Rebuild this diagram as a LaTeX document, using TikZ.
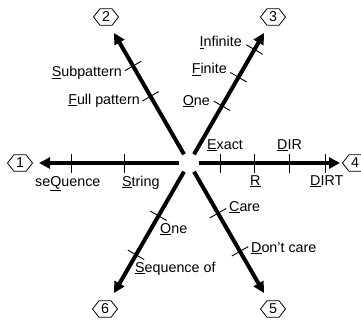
\documentclass[tikz,border=0pt]{standalone}
\usepackage{fontspec}
\setmainfont{Liberation Sans}
\usetikzlibrary{calc,arrows.meta}

\tikzset{
  axisline/.style={line width=4pt,-{Triangle[length=11pt,width=11pt]}},
  tickline/.style={line width=0.9pt},
  lbl/.style={inner sep=0pt,font=\fontsize{14.3}{16}\selectfont},
  hexnum/.style={inner sep=0pt,font=\fontsize{14.3}{16}\selectfont},
  hexline/.style={line width=0.8pt,line join=miter},
}

% numbered hexagon: name, position, number
\newcommand\hexnode[3]{%
  \node[hexnum] (#1) at (#2) {#3};
  \draw[hexline] ($(#1.center)+(-12.5,0)$) -- ++(6.5,-8.3) -- ++(12,0)
    -- ++(6.5,8.3) -- ++(-6.5,8.3) -- ++(-12,0) -- cycle;}

\begin{document}
\begin{tikzpicture}[x=1pt,y=-1pt]
  \useasboundingbox (0,0) rectangle (361,321);

  % hub and axis end points
  \coordinate (O) at (189,163);
  \coordinate (A1) at (39,163);
  \coordinate (A2) at (114,33);
  \coordinate (A3) at (264,33);
  \coordinate (A4) at (340,163);
  \coordinate (A5) at (264,293);
  \coordinate (A6) at (114,293);

  % the six axes, starting just off the hub
  \foreach \i in {1,...,6}
    \draw[axisline] ($(O)!10pt!(A\i)$) -- (A\i);

  % tick marks, at distances from the hub
  \foreach \i/\dl in {1/{65,118}, 2/{77,112}, 3/{66,99,131},
                      4/{31,65,100,136}, 5/{58,102}, 6/{61,106}}
    \foreach \d in \dl
      \draw[tickline] ($(O)!\d pt!(A\i)!9.5pt!90:(A\i)$)
                   -- ($(O)!\d pt!(A\i)!9.5pt!-90:(A\i)$);

  % axis numbers
  \hexnode{h1}{20,163}{1}
  \hexnode{h2}{106,17}{2}
  \hexnode{h3}{273,17}{3}
  \hexnode{h4}{355,163}{4}
  \hexnode{h5}{273,309}{5}
  \hexnode{h6}{105,309}{6}

  % axis 1
  \node[lbl,anchor=base west] (l1a) at (35,186) {se\underline{Q}uence};
  \node[lbl,anchor=base west] (l1b) at (122,186) {\underline{S}tring};
  % axis 2
  \node[lbl,anchor=base east] (l2a) at (122,77) {\underline{S}ubpattern};
  \node[lbl,anchor=base east] (l2b) at (140,104) {\underline{F}ull pattern};
  % axis 3
  \node[lbl,anchor=base east] (l3a) at (242,47) {\underline{I}nfinite};
  \node[lbl,anchor=base east] (l3b) at (227,74) {\underline{F}inite};
  \node[lbl,anchor=base east] (l3c) at (210,105) {\underline{O}ne};
  % axis 4
  \node[lbl,anchor=base west] (l4a) at (207,149) {\underline{E}xact};
  \node[lbl,anchor=base west] (l4b) at (277,149) {\underline{D}IR};
  \node[lbl,anchor=base west] (l4c) at (250,185) {\underline{R}};
  \node[lbl,anchor=base west] (l4d) at (310,185) {\underline{D}IRT};
  % axis 5
  \node[lbl,anchor=base west] (l5a) at (229,211) {\underline{C}are};
  \node[lbl,anchor=base west] (l5b) at (251,252) {\underline{D}on't care};
  % axis 6
  \node[lbl,anchor=base west] (l6a) at (160,233) {\underline{O}ne};
  \node[lbl,anchor=base west] (l6b) at (135,272) {\underline{S}equence of};
\end{tikzpicture}
\end{document}
